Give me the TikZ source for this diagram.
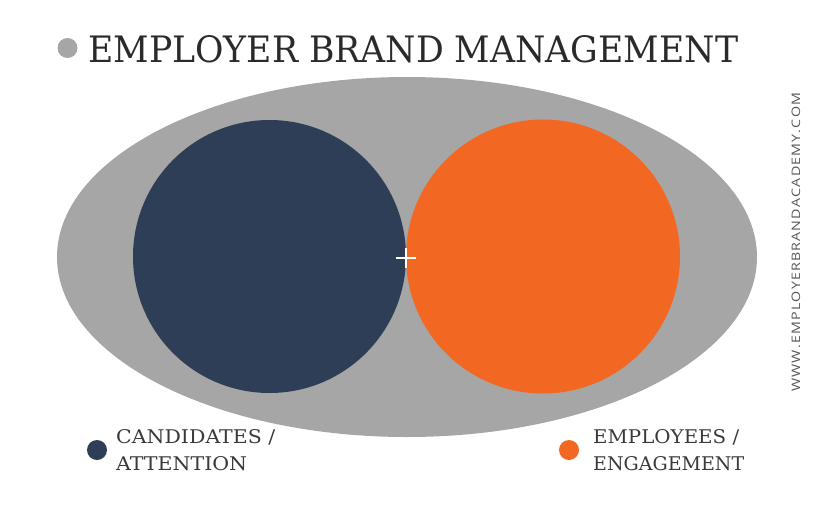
\documentclass[tikz,border=0pt]{standalone}
\usetikzlibrary{shapes.geometric}
\usepackage{fontspec}
\setmainfont{DejaVu Serif}
\newfontfamily\urlfont{Open Sans}
\usepackage{graphicx}
\definecolor{ellgray}{HTML}{A6A6A6}
\definecolor{navyblue}{HTML}{2E3E56}
\definecolor{brandorange}{HTML}{F26722}
\definecolor{titletext}{HTML}{2A2A2A}
\definecolor{legtext}{HTML}{3A3A3A}
\definecolor{urltext}{HTML}{555555}
\tikzset{
  txt/.style={inner sep=0pt, anchor=base west},
  dotmark/.style={circle, inner sep=0pt, minimum size=#1},
}
\begin{document}
\begin{tikzpicture}[x=1pt,y=-1pt]
\useasboundingbox (0,0) rectangle (840,517);
% big ellipse
\node[ellipse, fill=ellgray, minimum width=700pt, minimum height=360pt, inner sep=0pt] (ell) at (407,257) {};
\fill[navyblue] (269.5,256.5) circle (136.5);
\fill[brandorange] (543,256.5) circle (137);
\node[inner sep=0pt] (plus) at (406,258) {};
\draw[white, line width=2.2pt] ([xshift=-10pt]plus.center) -- ([xshift=10pt]plus.center);
\draw[white, line width=2.2pt] ([yshift=-10pt]plus.center) -- ([yshift=10pt]plus.center);
% title
\node[dotmark=20pt, fill=ellgray] (tdot) at (67.5,48) {};
\node[txt, text=titletext] (title) at (88,62) {\resizebox{650pt}{27pt}{\fontsize{38}{38}\selectfont EMPLOYER BRAND MANAGEMENT}};
% legend
\node[dotmark=20pt, fill=navyblue] (ldot1) at (97,450) {};
\node[txt, text=legtext] (l1a) at (116,443.5) {\resizebox{159pt}{14pt}{\fontsize{20}{20}\selectfont CANDIDATES /}};
\node[txt, text=legtext] (l1b) at (116,470.5) {\resizebox{131pt}{14pt}{\fontsize{20}{20}\selectfont ATTENTION}};
\node[dotmark=20pt, fill=brandorange] (ldot2) at (569,450) {};
\node[txt, text=legtext] (l2a) at (593,443.5) {\resizebox{146pt}{14pt}{\fontsize{20}{20}\selectfont EMPLOYEES /}};
\node[txt, text=legtext] (l2b) at (593,470.5) {\resizebox{151pt}{14pt}{\fontsize{20}{20}\selectfont ENGAGEMENT}};
% url
\node[inner sep=0pt, anchor=base west, rotate=90, text=urltext] (url) at (800,392) {\resizebox{299pt}{8.5pt}{\urlfont\fontsize{12}{12}\selectfont W\kern1pt W\kern1pt W\kern1pt .\kern1pt E\kern1pt M\kern1pt P\kern1pt L\kern1pt O\kern1pt Y\kern1pt E\kern1pt R\kern1pt B\kern1pt R\kern1pt A\kern1pt N\kern1pt D\kern1pt A\kern1pt C\kern1pt A\kern1pt D\kern1pt E\kern1pt M\kern1pt Y\kern1pt .\kern1pt C\kern1pt O\kern1pt M}};
\end{tikzpicture}
\end{document}
